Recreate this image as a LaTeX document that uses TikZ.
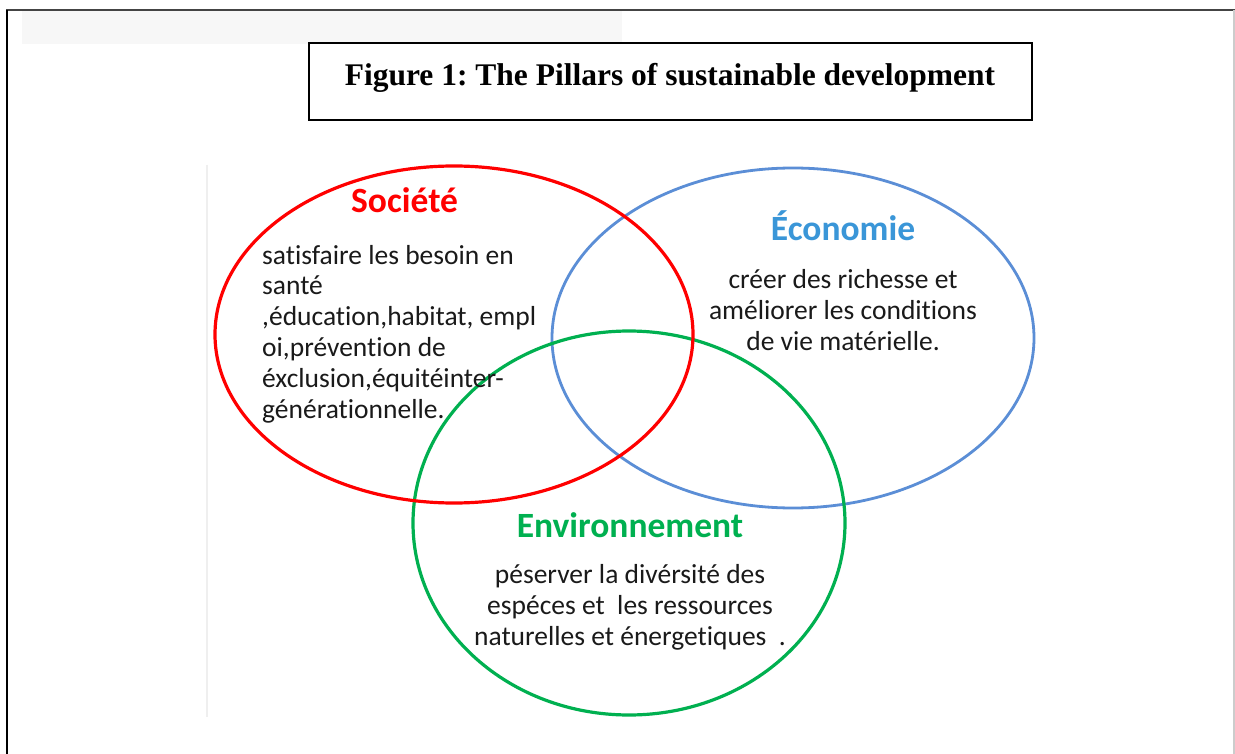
\documentclass[tikz,border=0pt]{standalone}
\usepackage{fontspec}
\setmainfont{Carlito}[Ligatures=NoCommon]
\newfontfamily\titlefont{Liberation Serif}
\usetikzlibrary{shapes.geometric}
\definecolor{socred}{HTML}{FF0000}
\definecolor{ecoblue}{HTML}{5B8ED6}
\definecolor{ecotext}{HTML}{3A96D8}
\definecolor{envgreen}{HTML}{00B050}
\definecolor{bodytext}{HTML}{1A1A1A}
\definecolor{framegray}{HTML}{444444}
\definecolor{panelgray}{HTML}{F7F7F7}
\definecolor{imgedge}{HTML}{EFEFEF}
\frenchspacing
\begin{document}
\begin{tikzpicture}[x=1pt,y=-1pt,
  pillar/.style={ellipse,draw,inner sep=0pt,line width=3.2pt},
  headtext/.style={font=\fontsize{35.5}{38}\selectfont\bfseries,inner sep=0pt},
  bodyblock/.style={font=\fontsize{27.5}{30.8}\selectfont,text=bodytext,inner sep=0pt},
]
\useasboundingbox (0,0) rectangle (1235,754);
\fill[white] (0,0) rectangle (1235,754);
% frame
\draw[framegray,line width=2pt] (6,10) -- (1235,10);
\draw[black,line width=1.2pt] (7,10) -- (7,754);
\draw[gray!40,line width=1.5pt] (1234,10) -- (1234,754);
% light panel at top left
\fill[panelgray] (22,11) rectangle (622,44);
% faint edge of embedded picture
\draw[imgedge,line width=2pt] (207,165) -- (207,717);
% title box
\node[draw=black,line width=2pt,minimum width=723pt,minimum height=77pt,inner sep=0pt] (titlebox) at (670.5,81.5) {};
\node[font=\titlefont\fontsize{31.5}{34}\selectfont\bfseries,anchor=base,inner sep=0pt] (title) at (670,86) {Figure 1: The Pillars of sustainable development};
% ellipses
\node[pillar,draw=ecoblue,line width=2.8pt,minimum width=482pt,minimum height=340pt] (eco) at (793,338) {};
\node[pillar,draw=envgreen,minimum width=432pt,minimum height=384pt] (env) at (629,523) {};
\node[pillar,draw=socred,minimum width=478pt,minimum height=337pt] (soc) at (454,334.5) {};
% headings
\node[headtext,text=socred,anchor=base west] (sochead) at (351,213) {Société};
\node[headtext,text=ecotext,anchor=base] (ecohead) at (843,241) {Économie};
\node[headtext,text=envgreen,anchor=base] (envhead) at (630,537) {Environnement};
% body texts (anchor at the baseline of the last line)
\node[bodyblock,align=left,anchor=base west] (socbody) at (262,418) {satisfaire les besoin en\\santé\\,éducation,habitat, empl\\oi,prévention de\\éxclusion,équitéinter-\\générationnelle.};
\node[bodyblock,align=center,anchor=base] (ecobody) at (843,350) {créer des richesse et\\améliorer les conditions\\de vie matérielle.};
\node[bodyblock,align=center,anchor=base] (envbody) at (630,645) {péserver la divérsité des\\espéces et\ \ les ressources\\naturelles et énergetiques\ \ .};
\end{tikzpicture}
\end{document}
